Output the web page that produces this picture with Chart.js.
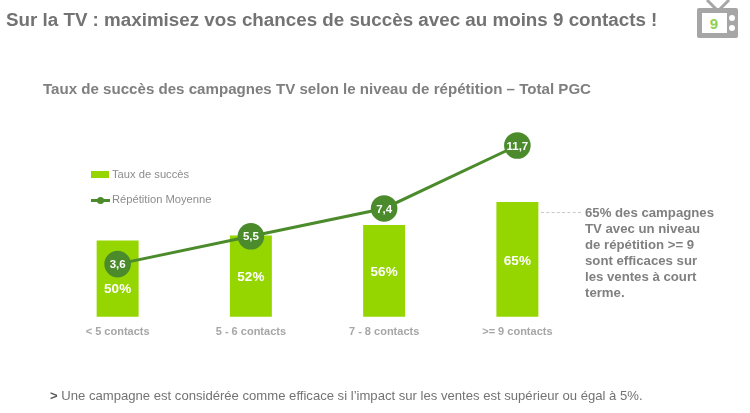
<!DOCTYPE html>
<html lang="fr">
<head>
<meta charset="utf-8">
<title>Taux de succès des campagnes TV</title>
<script src="https://cdn.jsdelivr.net/npm/chart.js@4/dist/chart.umd.min.js"></script>
<style>
    html, body { margin: 0; padding: 0; background: #fff; }
    body { position: relative; width: 750px; height: 413px; overflow: hidden; font-family: "Liberation Sans", Arial, sans-serif; color: #7f7f7f; }
    canvas { position: absolute; left: 0; top: 0; }
    .txt { position: absolute; white-space: nowrap; }
    #title { left: 6px; top: 9px; font-size: 18.8px; font-weight: bold; color: #737373; }
    #subtitle { left: 43px; top: 80px; font-size: 15.1px; font-weight: bold; color: #7f7f7f; }
    #note { left: 585px; top: 205px; font-size: 13.2px; line-height: 16px; font-weight: bold; color: #808080; }
    #footer { left: 50px; top: 388px; font-size: 13.1px; color: #737373; }
    #footer b { color: #595959; }
    .legend { left: 112px; font-size: 11.2px; color: #8c8c8c; }
    .swatch { position: absolute; left: 91px; width: 18px; height: 7px; background: #95d600; top: 171px; }
    .leg-line { position: absolute; left: 91px; width: 19px; height: 3px; background: #4b8b2b; top: 199px; }
    .leg-dot { position: absolute; left: 97px; top: 197px; width: 7px; height: 7px; border-radius: 50%; background: #4b8b2b; }
    #dash { position: absolute; left: 541px; top: 212px; width: 40px; border-top: 1px dashed #c8c8c8; }
    #tv { position: absolute; left: 697px; top: 0; }
</style>
</head>
<body>
<canvas id="chart1" width="750" height="413"></canvas>

<div class="txt" id="title">Sur la TV : maximisez vos chances de succès avec au moins 9 contacts !</div>
<div class="txt" id="subtitle">Taux de succès des campagnes TV selon le niveau de répétition – Total PGC</div>

<div class="swatch"></div>
<div class="txt legend" style="top:168px">Taux de succès</div>
<div class="leg-line"></div><div class="leg-dot"></div>
<div class="txt legend" style="top:193px">Répétition Moyenne</div>

<div id="dash"></div>
<div class="txt" id="note">65% des campagnes<br>TV avec un niveau<br>de répétition &gt;= 9<br>sont efficaces sur<br>les ventes à court<br>terme.</div>
<div class="txt" id="footer"><b>&gt;</b> Une campagne est considérée comme efficace si l’impact sur les ventes est supérieur ou égal à 5%.</div>

<svg id="tv" width="42" height="40" viewBox="0 0 42 40">
    <path d="M10 0 L21 11 L32 0" fill="none" stroke="#a6a6a6" stroke-width="3"/>
    <rect x="0" y="8" width="41" height="30" rx="2" fill="#a6a6a6"/>
    <rect x="5" y="13" width="25" height="20" fill="#fff"/>
    <circle cx="35" cy="18" r="3" fill="#fff"/>
    <circle cx="35" cy="28" r="3" fill="#fff"/>
    <text x="17" y="29" text-anchor="middle" font-family="Liberation Sans" font-weight="bold" font-size="15" fill="#8fd14f">9</text>
</svg>

<script>
const categories = ['< 5 contacts', '5 - 6 contacts', '7 - 8 contacts', '>= 9 contacts']
const successRate = [50, 52, 56, 65]
const repetition = [3.6, 5.5, 7.4, 11.7]

const GREEN = '#95d600'
const DARK_GREEN = '#4b8b2b'

// draws the white values on the bars and in the circles
const valueLabels = {
    id: 'valueLabels',
    afterDatasetsDraw(chart) {
        const { ctx, chartArea } = chart
        const bars = chart.getDatasetMeta(0).data
        const points = chart.getDatasetMeta(1).data

        ctx.save()
        ctx.fillStyle = '#fff'
        ctx.textAlign = 'center'
        ctx.textBaseline = 'middle'

        ctx.font = 'bold 13.5px "Liberation Sans"'
        bars.forEach((bar, i) => {
            // the axis does not start at 0 so the visible bar ends at the chart area
            let y = (bar.y + chartArea.bottom) / 2 + 1.5
            // first bar: the circle sits on the middle, label goes under it
            if (Math.abs(y - points[i].y) < 20) y = points[i].y + 25
            ctx.fillText(successRate[i] + '%', bar.x, y)
        })

        ctx.font = 'bold 11.5px "Liberation Sans"'
        points.forEach((point, i) => {
            ctx.fillText(String(repetition[i]).replace('.', ','), point.x, point.y + 1)
        })
        ctx.restore()
    }
}

const data = {
    labels: categories,
    datasets: [
        {
            type: 'bar',
            label: 'Taux de succès',
            data: successRate,
            backgroundColor: GREEN,
            yAxisID: 'y',
            order: 2,
            barPercentage: 0.315,
            categoryPercentage: 1
        },
        {
            type: 'line',
            label: 'Répétition Moyenne',
            data: repetition,
            borderColor: DARK_GREEN,
            borderWidth: 3,
            backgroundColor: DARK_GREEN,
            pointBackgroundColor: DARK_GREEN,
            pointBorderWidth: 0,
            pointRadius: 13.3,
            tension: 0,
            yAxisID: 'y2',
            order: 1
        }
    ]
}

const options = {
    responsive: false,
    animation: false,
    layout: { padding: { left: 51, right: 166, top: 130, bottom: 73 } },
    plugins: {
        legend: { display: false },
        tooltip: { enabled: false }
    },
    scales: {
        x: {
            grid: { display: false },
            border: { display: false },
            ticks: {
                color: '#a6a6a6',
                font: { family: '"Liberation Sans"', size: 11, weight: 'bold' },
                padding: 1,
                maxRotation: 0
            }
        },
        y: { display: false, min: 20.4, max: 92.9 },
        y2: { display: false, min: 0, max: 12.76 }
    }
}

new Chart('chart1', { data, options, plugins: [valueLabels] })
</script>
</body>
</html>
